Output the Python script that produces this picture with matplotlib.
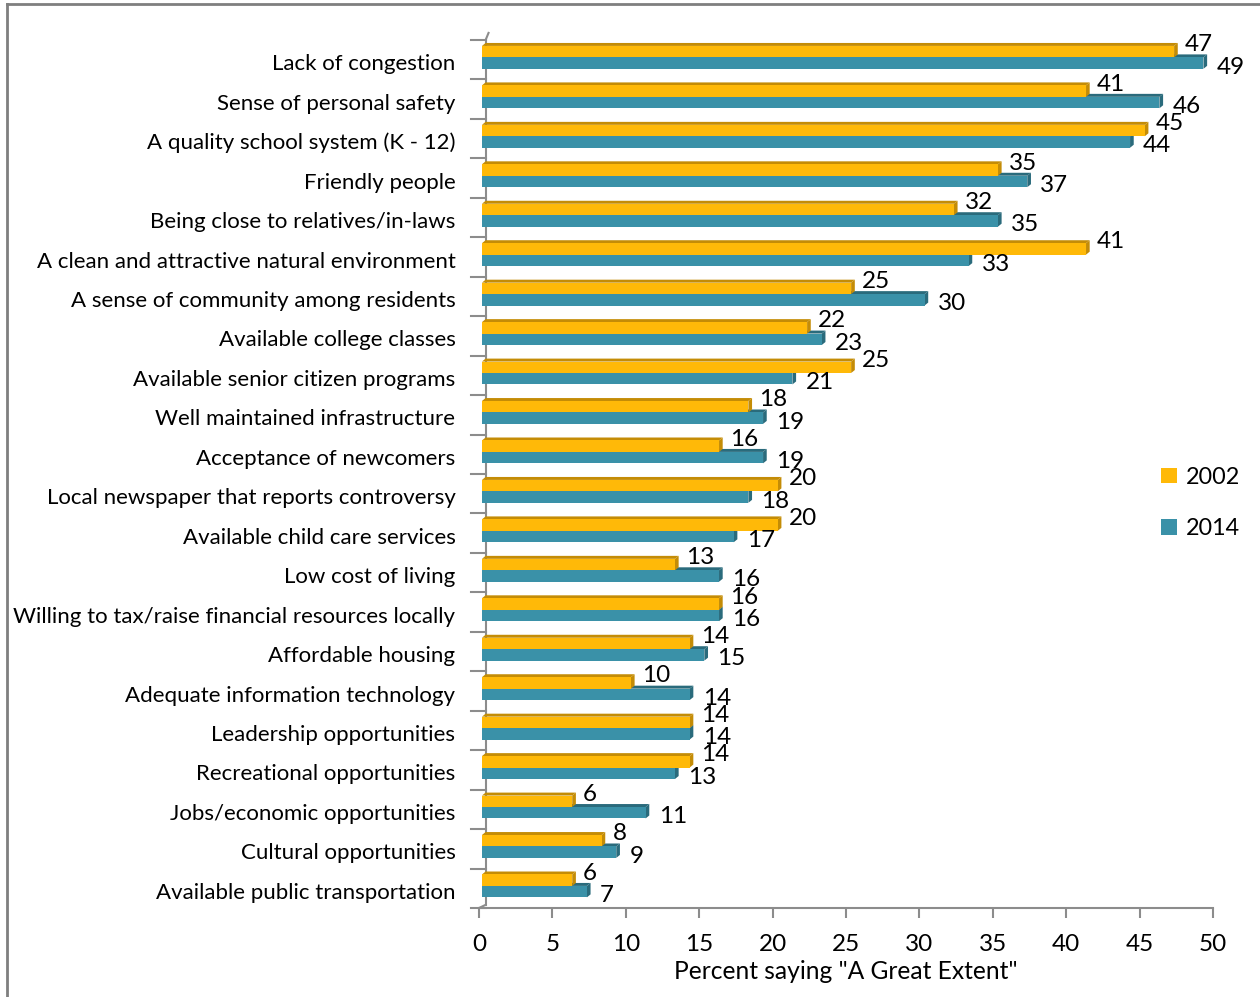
import matplotlib
matplotlib.use("Agg")
import matplotlib.pyplot as plt
from matplotlib.patches import Polygon, Patch
from matplotlib.transforms import ScaledTranslation
from matplotlib.lines import Line2D

categories = [
    "Lack of congestion",
    "Sense of personal safety",
    "A quality school system (K - 12)",
    "Friendly people",
    "Being close to relatives/in-laws",
    "A clean and attractive natural environment",
    "A sense of community among residents",
    "Available college classes",
    "Available senior citizen programs",
    "Well maintained infrastructure",
    "Acceptance of newcomers",
    "Local newspaper that reports controversy",
    "Available child care services",
    "Low cost of living",
    "Willing to tax/raise financial resources locally",
    "Affordable housing",
    "Adequate information technology",
    "Leadership opportunities",
    "Recreational opportunities",
    "Jobs/economic opportunities",
    "Cultural opportunities",
    "Available public transportation",
]
vals_2002 = [47, 41, 45, 35, 32, 41, 25, 22, 25, 18, 16, 20, 20, 13, 16, 14, 10, 14, 14, 6, 8, 6]
vals_2014 = [49, 46, 44, 37, 35, 33, 30, 23, 21, 19, 19, 18, 17, 16, 16, 15, 14, 14, 13, 11, 9, 7]
series_labels = ["2002", "2014"]
xticks = [0, 5, 10, 15, 20, 25, 30, 35, 40, 45, 50]
xlabel = 'Percent saying "A Great Extent"'

FONT = "Lato"
plt.rcParams["font.family"] = [FONT, "DejaVu Sans"]

Y_FRONT, Y_DARK = "#FFB908", "#C48C06"
T_FRONT, T_DARK = "#3A91A8", "#2A6B7C"
GRAY = "#8C8C8C"

W, H = 1260, 997
fig = plt.figure(figsize=(W / 100, H / 100), dpi=100)
ax = fig.add_axes([479 / W, 1 - 908 / H, (1213 - 479) / W, (908 - 40) / H])

n = len(categories)
ax.set_xlim(0, 50)
ax.set_ylim(n - 0.5, -0.5)

bh = 0.29          # bar height (category units)
shift = -0.06      # 3D shift of the pair
dx = 0.25          # depth in x (data units)
dy = 0.075         # depth in y (category units)
x0 = 0.2           # 3D start offset of the front face
xend = 0.35        # 3D end offset of the front face


def bar3d(y_center, v, front, dark, z):
    top = y_center - bh / 2
    bot = y_center + bh / 2
    e = v + xend
    ax.add_patch(Polygon([(x0, top), (e, top), (e + dx, top - dy), (x0 + dx, top - dy)],
                         closed=True, facecolor=dark, edgecolor="none", zorder=z))
    ax.add_patch(Polygon([(e, top), (e, bot), (e + dx, bot - dy), (e + dx, top - dy)],
                         closed=True, facecolor=dark, edgecolor="none", zorder=z))
    ax.barh([y_center], [e - x0], height=bh, left=x0, color=front, edgecolor="none",
            zorder=z + 0.1)


z = 3
for i in range(n):
    yc = i + shift
    bar3d(yc + bh / 2, vals_2014[i], T_FRONT, T_DARK, z)
    z += 0.2
    bar3d(yc - bh / 2, vals_2002[i], Y_FRONT, Y_DARK, z)
    z += 0.2

LBL = 17.5
for i in range(n):
    yc = i + shift
    ax.annotate(str(vals_2002[i]), (vals_2002[i] + xend, yc - bh / 2), xytext=(11, 7),
                textcoords="offset pixels", ha="left", va="center", fontsize=LBL,
                zorder=50)
    ax.annotate(str(vals_2014[i]), (vals_2014[i] + xend, yc + bh / 2), xytext=(13, -4),
                textcoords="offset pixels", ha="left", va="center", fontsize=LBL,
                zorder=50)

for s in ["top", "right", "left"]:
    ax.spines[s].set_visible(False)
ax.spines["bottom"].set_color(GRAY)
ax.spines["bottom"].set_linewidth(1.5)

ax.set_xticks(xticks)
ax.set_xticklabels([str(t) for t in xticks], fontsize=LBL)
ax.tick_params(axis="x", direction="out", length=7, width=1.5, color=GRAY, pad=11.5)

ax.set_yticks(range(n))
ax.set_yticklabels(categories, fontsize=16.0)
ax.tick_params(axis="y", length=0, pad=17)
off = ScaledTranslation(0, -2.5 / 100, fig.dpi_scale_trans)
for lab in ax.get_yticklabels():
    lab.set_transform(lab.get_transform() + off)

wall_x = 0.45
ax.add_line(Line2D([wall_x, wall_x], [-0.5, n - 0.5 - 0.08], color=GRAY, lw=1.5,
                   clip_on=False, zorder=1))
ax.add_line(Line2D([wall_x, 0], [n - 0.5 - 0.08, n - 0.5], color=GRAY, lw=1.5,
                   clip_on=False, zorder=1))
ax.add_line(Line2D([wall_x, wall_x + 0.2], [-0.5, -0.68], color=GRAY, lw=1.5,
                   clip_on=False, zorder=1))
for k in range(n + 1):
    yb = k - 0.5
    ax.add_line(Line2D([-0.55, wall_x], [yb, yb], color=GRAY, lw=1.5,
                       clip_on=False, zorder=1))

ax.set_xlabel(xlabel, fontsize=17.7, labelpad=4)

handles = [Patch(facecolor=Y_FRONT), Patch(facecolor=T_FRONT)]
ax.legend(handles, series_labels, loc="center left",
          bbox_to_anchor=(1152 / W, 1 - 503 / H), bbox_transform=fig.transFigure,
          frameon=False, fontsize=16.8, handlelength=0.65, handleheight=0.65,
          handletextpad=0.4, labelspacing=1.3, borderaxespad=0)

fig.add_artist(Line2D([7 / W, 7 / W], [0, 1 - 4 / H], color="#7F7F7F", lw=2,
                      transform=fig.transFigure))
fig.add_artist(Line2D([7 / W, 1], [1 - 4 / H, 1 - 4 / H], color="#7F7F7F", lw=2,
                      transform=fig.transFigure))

fig.savefig("out.png", dpi=100)
